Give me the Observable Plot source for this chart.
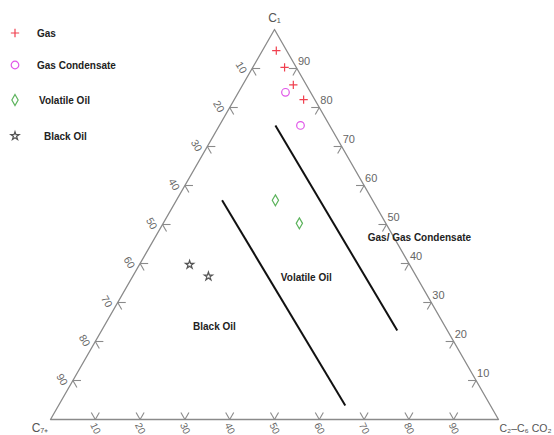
<!DOCTYPE html>
<html>
<head>
<meta charset="utf-8">
<script src="https://cdn.jsdelivr.net/npm/d3@7"></script>
<script src="https://cdn.jsdelivr.net/npm/@observablehq/plot@0.6"></script>
<style>
  html, body { margin: 0; padding: 0; background: #fff; }
  #wrap { position: relative; width: 554px; height: 435px; font-family: "Liberation Sans", Arial, sans-serif; }
  #legend { position: absolute; left: 0; top: 0; }
  .lg-row { position: absolute; display: flex; align-items: center; font-weight: bold; font-size: 10px; color: #222; white-space: nowrap; }
</style>
</head>
<body>
<div id="wrap"><div id="legend"></div></div>
<script>
// ---- data (C1, C2-C6+CO2, C7+ in %) ----
const seriesNames = ["Gas", "Gas Condensate", "Volatile Oil", "Black Oil"];
const seriesSymbols = ["plus", "circle", "diamond", "star"];
const seriesColors = ["#f0404f", "#e055e8", "#5cb35c", "#555555"];
const seriesRadius = [2.8, 3.8, 3.3, 2.6];
const gas = [[94.6, 3.1, 2.3], [90.3, 7.1, 2.6], [85.8, 11.3, 2.9], [82.0, 15.5, 2.5]];
const gasCondensate = [[83.9, 10.5, 5.6], [75.4, 18.1, 6.5]];
const volatileOil = [[56.2, 22.1, 21.7], [50.3, 30.4, 19.3]];
const blackOil = [[39.7, 11.2, 49.1], [36.7, 16.9, 46.4]];
// boundary lines (start, end) in ternary %
const boundaryBlackVolatile = [[56.2, 10.2, 33.6], [3.6, 64.0, 32.4]];
const boundaryVolatileGas = [[75.4, 12.5, 12.1], [22.8, 66.0, 11.2]];
// region labels
const regionLabels = ["Volatile Oil", "Black Oil", "Gas/ Gas Condensate"];
const regionPos = [[36.4, 38.9, 24.7], [23.8, 24.7, 51.5], [46.7, 59.0, -5.7]];
const tickValues = [10, 20, 30, 40, 50, 60, 70, 80, 90];
const vertexLabels = ["C\u2081", "C\u2087\u208A", "C\u2082\u2013C\u2086 CO\u2082"];

// ---- ternary -> cartesian ----
const SQ = Math.sqrt(3) / 2;
function tern([c1, c2, c7]) {
  const s = c1 + c2 + c7, a = c1 / s * 100, b = c2 / s * 100;
  return {x: b + a / 2, y: a * SQ};
}
const allSeries = [gas, gasCondensate, volatileOil, blackOil];
const seriesPoints = allSeries.map((arr, i) => arr.map(t => ({...tern(t), series: seriesNames[i]})));

const triangle = [[100, 0, 0], [0, 100, 0], [0, 0, 100], [100, 0, 0]].map(tern);
const boundaries = [boundaryBlackVolatile, boundaryVolatileGas].map(([p, q]) => {
  const A = tern(p), B = tern(q); return {x1: A.x, y1: A.y, x2: B.x, y2: B.y};
});

const L = 1.8;
const bottomPts = tickValues.map(v => ({x: v, y: 0, v}));
const leftPts = tickValues.map(v => { const a = 100 - v; return {x: a / 2, y: a * SQ, v}; });
const rightPts = tickValues.map(v => ({x: 100 - v + v / 2, y: v * SQ, v}));
const arms = [
  ...bottomPts.flatMap(p => [[0.5, SQ], [-0.5, SQ]].map(([dx, dy]) => ({x1: p.x, y1: p.y, x2: p.x + L * dx, y2: p.y + L * dy}))),
  ...leftPts.flatMap(p => [[1, 0], [0.5, -SQ]].map(([dx, dy]) => ({x1: p.x, y1: p.y, x2: p.x + L * dx, y2: p.y + L * dy}))),
  ...rightPts.flatMap(p => [[-1, 0], [-0.5, -SQ]].map(([dx, dy]) => ({x1: p.x, y1: p.y, x2: p.x + L * dx, y2: p.y + L * dy})))
];
const regions = regionLabels.map((t, i) => ({...tern(regionPos[i]), text: t}));
const vtx = [tern([100, 0, 0]), tern([0, 0, 100]), tern([0, 100, 0])].map((p, i) => ({...p, text: vertexLabels[i]}));

const plot = Plot.plot({
  width: 554, height: 435,
  marginLeft: 50, marginRight: 56, marginTop: 29, marginBottom: 16,
  x: {domain: [0, 100], axis: null},
  y: {domain: [0, 100 * SQ], axis: null},
  style: {fontFamily: "'Liberation Sans', Arial, sans-serif", background: "transparent", overflow: "visible"},
  marks: [
    Plot.line(triangle, {x: "x", y: "y", stroke: "#8a8a8a", strokeWidth: 1.3}),
    Plot.link(arms, {x1: "x1", y1: "y1", x2: "x2", y2: "y2", stroke: "#8a8a8a", strokeWidth: 1.1}),
    Plot.link(boundaries, {x1: "x1", y1: "y1", x2: "x2", y2: "y2", stroke: "#111", strokeWidth: 2}),
    Plot.text(bottomPts, {x: "x", y: "y", text: d => String(d.v), dy: 9, rotate: 65, fontSize: 10, fill: "#666"}),
    Plot.text(leftPts, {x: "x", y: "y", text: d => String(d.v), dx: -11, dy: -1, rotate: 60, fontSize: 10.5, fill: "#666"}),
    Plot.text(rightPts, {x: "x", y: "y", text: d => String(d.v), dx: 1, dy: -7, textAnchor: "start", fontSize: 11, fill: "#666"}),
    Plot.text(vtx.slice(0, 1), {x: "x", y: "y", text: "text", dy: -11, fontSize: 12, fill: "#555"}),
    Plot.text(vtx.slice(1, 2), {x: "x", y: "y", text: "text", dx: -2, dy: 9, textAnchor: "end", fontSize: 12, fill: "#555"}),
    Plot.text(vtx.slice(2, 3), {x: "x", y: "y", text: "text", dx: 1, dy: 9, textAnchor: "start", fontSize: 10.5, fill: "#555"}),
    Plot.text(regions, {x: "x", y: "y", text: "text", fontSize: 10, fontWeight: "bold", fill: "#222"}),
    ...seriesPoints.map((pts, i) => Plot.dot(pts, {x: "x", y: "y", symbol: seriesSymbols[i], stroke: seriesColors[i], fill: "none", r: seriesRadius[i], strokeWidth: 1.2}))
  ]
});
document.getElementById("wrap").prepend(plot);

// ---- legend ----
const legendTops = [33, 65, 100, 136];
const legendTextX = [37, 37, 39, 44];
const symMap = {plus: d3.symbolPlus, circle: d3.symbolCircle, diamond: d3.symbolDiamond, star: d3.symbolStar};
const lg = d3.select("#legend");
seriesNames.forEach((name, i) => {
  const row = lg.append("div").attr("class", "lg-row").style("left", "8px").style("top", (legendTops[i] - 7) + "px").style("height", "14px");
  const svg = row.append("svg").attr("width", 14).attr("height", 14).style("overflow", "visible");
  svg.append("path").attr("transform", "translate(7,7)")
    .attr("d", d3.symbol(symMap[seriesSymbols[i]], Math.PI * seriesRadius[i] * seriesRadius[i])())
    .attr("fill", "none").attr("stroke", seriesColors[i]).attr("stroke-width", 1.2);
  row.append("span").text(name).style("margin-left", (legendTextX[i] - 22) + "px");
});
</script>
</body>
</html>
